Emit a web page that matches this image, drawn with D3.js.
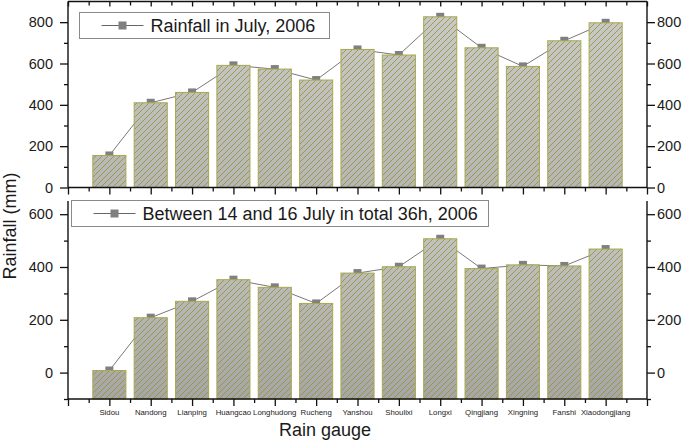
<!DOCTYPE html>
<html>
<head>
<meta charset="utf-8">
<script src="https://d3js.org/d3.v7.min.js"></script>
<style>
  body { margin: 0; background: #fff; }
  text { font-family: "Liberation Sans", Arial, sans-serif; fill: #1a1a1a; }
</style>
</head>
<body>
<script>
// ---- data ----
const gauges = ["Sidou","Nandong","Lianping","Huangcao","Longhudong","Rucheng","Yanshou","Shoulixi","Longxi","Qingjiang","Xingning","Fanshi","Xiaodongjiang"];
const julyRain = [155, 410, 460, 591, 573, 520, 668, 641, 826, 676, 586, 710, 797];
const stormRain = [8, 208, 270, 352, 323, 262, 377, 401, 507, 394, 408, 404, 468];
const topTicks = [0, 200, 400, 600, 800];
const topMinor = [100, 300, 500, 700];
const botTicks = [0, 200, 400, 600];
const botMinor = [-100, 100, 300, 500];
const topLegend = "Rainfall in July, 2006";
const botLegend = "Between 14 and 16 July in total 36h, 2006";
const yTitle = "Rainfall (mm)";
const xTitle = "Rain gauge";

const W = 685, H = 441;
const svg = d3.select("body").append("svg").attr("width", W).attr("height", H);

const L = 68, R = 647;
const x = d3.scaleLinear().domain([-1, 13]).range([L, R]);
const yTop = d3.scaleLinear().domain([0, 900]).range([187.5, 1.5]);
const yBot = d3.scaleLinear().domain([-100, 650]).range([399, 201]);
const barW = x(0.4) - x(-0.4);

const defs = svg.append("defs");
const pat = defs.append("pattern").attr("id", "hatch")
  .attr("patternUnits", "userSpaceOnUse").attr("width", 6).attr("height", 6);
pat.append("path").attr("d", "M-1.5,1.5 L1.5,-1.5 M0,6 L6,0 M4.5,7.5 L7.5,4.5")
  .attr("stroke", "#929240").attr("stroke-width", 0.85).attr("fill", "none");

function grad(id, y1, y2, c1, c2) {
  const g = defs.append("linearGradient").attr("id", id)
    .attr("gradientUnits", "userSpaceOnUse").attr("x1", 0).attr("x2", 0).attr("y1", y1).attr("y2", y2);
  g.append("stop").attr("offset", 0).attr("stop-color", c1);
  g.append("stop").attr("offset", 1).attr("stop-color", c2);
}
grad("gTop", 1.5, 187.5, "#cacac6", "#b6b6b2");
grad("gBot", 201, 399, "#c8c8c4", "#a6a6a4");

function panel(y, vals, gradId, ticks, minor, legend, legBox, rightPad) {
  const g = svg.append("g");
  // connecting line (behind bars)
  g.append("path").datum(vals)
    .attr("d", d3.line().x((d, i) => x(i)).y(d => y(d)))
    .attr("fill", "none").attr("stroke", "#555").attr("stroke-width", 0.8);
  // markers
  g.selectAll("rect.mk").data(vals).join("rect").attr("class", "mk")
    .attr("x", (d, i) => x(i) - 4).attr("y", d => y(d) - 4)
    .attr("width", 8).attr("height", 8).attr("fill", "#808080");
  // bars
  const y0 = y.domain()[0];
  const bars = g.selectAll("g.bar").data(vals).join("g").attr("class", "bar");
  bars.append("rect")
    .attr("x", (d, i) => x(i) - barW / 2).attr("y", d => y(d))
    .attr("width", barW).attr("height", d => y(y0) - y(d))
    .attr("fill", `url(#${gradId})`);
  bars.append("rect")
    .attr("x", (d, i) => x(i) - barW / 2).attr("y", d => y(d))
    .attr("width", barW).attr("height", d => y(y0) - y(d))
    .attr("fill", "url(#hatch)").attr("stroke", "#a8a84e").attr("stroke-width", 1);

  // y axes
  const lAx = g.append("g").attr("transform", `translate(${L},0)`)
    .call(d3.axisLeft(y).tickValues(ticks).tickSize(8).tickPadding(7).tickFormat(d3.format("d")));
  const lMin = g.append("g").attr("transform", `translate(${L},0)`)
    .call(d3.axisLeft(y).tickValues(minor).tickSize(4).tickFormat(""));
  const rAx = g.append("g").attr("transform", `translate(${R},0)`)
    .call(d3.axisRight(y).tickValues(ticks).tickSize(8).tickPadding(rightPad).tickFormat(d3.format("d")));
  const rMin = g.append("g").attr("transform", `translate(${R},0)`)
    .call(d3.axisRight(y).tickValues(minor).tickSize(4).tickFormat(""));
  [lAx, lMin, rAx, rMin].forEach(a => {
    a.select(".domain").remove();
    a.selectAll("line").attr("stroke", "#111").attr("stroke-width", 1.3);
    a.selectAll("text").attr("font-size", 14.5).attr("fill", "#1a1a1a")
      .style("font-family", '"Liberation Sans", Arial, sans-serif');
  });
  const [ya, yb] = y.range();
  g.append("line").attr("x1", L).attr("x2", L).attr("y1", ya).attr("y2", yb).attr("stroke", "#111").attr("stroke-width", 1.4);
  g.append("line").attr("x1", R).attr("x2", R).attr("y1", ya).attr("y2", yb).attr("stroke", "#111").attr("stroke-width", 1.4);

  // legend
  g.append("rect").attr("x", legBox[0]).attr("y", legBox[1]).attr("width", legBox[2]).attr("height", legBox[3])
    .attr("fill", "#fff").attr("stroke", "#8a8a8a").attr("stroke-width", 1);
  const ly = legBox[1] + legBox[3] / 2;
  const lx = legBox[0] + 22;
  g.append("line").attr("x1", lx).attr("x2", lx + 42).attr("y1", ly).attr("y2", ly)
    .attr("stroke", "#555").attr("stroke-width", 0.9);
  g.append("rect").attr("x", lx + 17).attr("y", ly - 4).attr("width", 8).attr("height", 8).attr("fill", "#808080");
  g.append("text").attr("x", lx + 49).attr("y", ly + 6.5).attr("font-size", 18).text(legend);
  return g;
}

panel(yTop, julyRain, "gTop", topTicks, topMinor, topLegend, [79.5, 12.5, 250, 26], 2);
panel(yBot, stormRain, "gBot", botTicks, botMinor, botLegend, [71.5, 200.5, 417, 26], 2);

// x axes (major ticks at categories, minor between)
function xAxis(yPos, majorLen, minorLen) {
  const a1 = svg.append("g").attr("transform", `translate(0,${yPos})`)
    .call(d3.axisBottom(x).tickValues(d3.range(-1, 14)).tickSize(majorLen).tickFormat(""));
  const a2 = svg.append("g").attr("transform", `translate(0,${yPos})`)
    .call(d3.axisBottom(x).tickValues(d3.range(-0.5, 13, 1)).tickSize(minorLen).tickFormat(""));
  [a1, a2].forEach(a => {
    a.select(".domain").remove();
    a.selectAll("line").attr("stroke", "#111").attr("stroke-width", 1.3);
  });
  svg.append("line").attr("x1", L).attr("x2", R).attr("y1", yPos).attr("y2", yPos)
    .attr("stroke", "#111").attr("stroke-width", 1.4);
}
xAxis(1.5, 5, 4);
xAxis(187.5, 7, 4);
xAxis(399, 7, 4);

// category labels
svg.append("g").selectAll("text").data(gauges).join("text")
  .attr("x", (d, i) => x(i)).attr("y", 415)
  .attr("text-anchor", "middle").attr("font-size", 7.8).text(d => d);

// titles
svg.append("text").attr("x", 325).attr("y", 436).attr("text-anchor", "middle")
  .attr("font-size", 18).text(xTitle);
svg.append("text").attr("transform", "translate(15.5,226) rotate(-90)")
  .attr("text-anchor", "middle").attr("font-size", 18).text(yTitle);
</script>
</body>
</html>
